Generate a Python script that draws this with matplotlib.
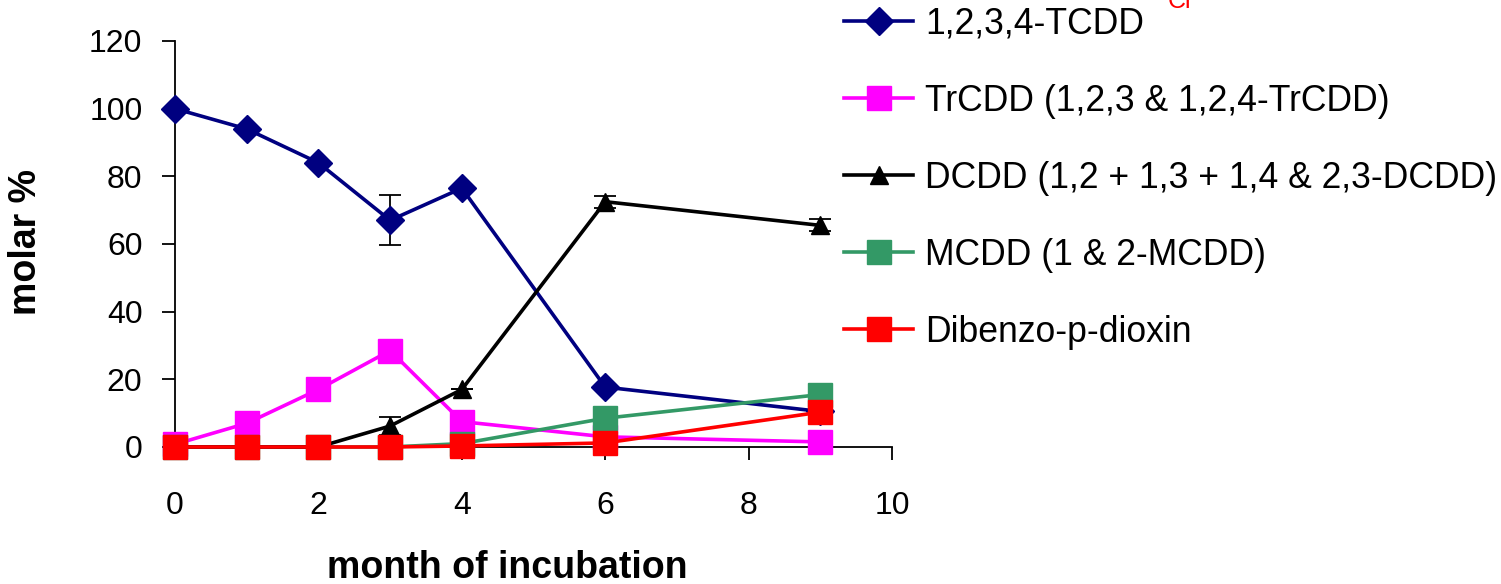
import numpy as np
import matplotlib
matplotlib.use("Agg")
import matplotlib.pyplot as plt

plt.rcParams['font.family'] = ['Liberation Sans', 'DejaVu Sans']

months = [0, 1, 2, 3, 4, 6, 9]
tcdd = [100, 94, 84, 67, 76.5, 17.7, 10.5]
tcdd_err = [0, 0, 0, 7.4, 0, 0, 1.5]
trcdd = [0.8, 7, 17, 28.5, 7.5, 3, 1.5]
dcdd = [0, 0, 0, 6.2, 17, 72.5, 65.5]
dcdd_err = [0, 0, 0, 2.6, 0, 1.8, 1.8]
mcdd = [0, 0, 0, 0, 1, 8.5, 15.5]
dibenzo = [0, 0, 0, 0, 0.3, 1.2, 10.3]

labels = ["1,2,3,4-TCDD", "TrCDD (1,2,3 & 1,2,4-TrCDD)",
          "DCDD (1,2 + 1,3 + 1,4 & 2,3-DCDD)", "MCDD (1 & 2-MCDD)",
          "Dibenzo-p-dioxin"]

fig = plt.figure(figsize=(15.01, 5.84), dpi=100)
ax = fig.add_axes([0.1166, 0.2346, 0.4777, 0.6952])

lw = 2.6
h1 = ax.errorbar(months, tcdd, yerr=tcdd_err, color='#000080', marker='D', ms=14,
                 lw=lw, ecolor='black', elinewidth=1.3, capsize=8, capthick=1.3, zorder=3)
h2, = ax.plot(months, trcdd, color='#ff00ff', marker='s', ms=17, lw=lw, zorder=3)
h3 = ax.errorbar(months, dcdd, yerr=dcdd_err, color='black', marker='^', ms=13,
                 lw=lw, ecolor='black', elinewidth=1.3, capsize=8, capthick=1.3, zorder=4)
h4, = ax.plot(months, mcdd, color='#339966', marker='s', ms=17, lw=lw, zorder=4)
h5, = ax.plot(months, dibenzo, color='#ff0000', marker='s', ms=17, lw=lw, zorder=5)

ax.set_xlim(0, 10)
ax.set_ylim(0, 120)
ax.set_xticks(np.arange(0, 11, 2))
ax.set_yticks(np.arange(0, 121, 20))
for s in ['top', 'right']:
    ax.spines[s].set_visible(False)
for s in ['left', 'bottom']:
    ax.spines[s].set_linewidth(1.3)
ax.tick_params(axis='both', labelsize=23, length=9.5, width=1.3, direction='out')
ax.tick_params(axis='x', pad=22)
ax.tick_params(axis='y', pad=14)
for line in ax.lines:
    line.set_clip_on(False)
for c in ax.collections:
    c.set_clip_on(False)

ax.set_xlabel("month of incubation", fontsize=27, fontweight='bold', va='center')
ax.xaxis.set_label_coords(0.464, -0.298)
ax.set_ylabel("molar %", fontsize=27, fontweight='bold', va='center')
ax.yaxis.set_label_coords(-0.208, 0.505)

fig.legend([h1[0], h2, h3[0], h4, h5], labels, loc='upper left',
           bbox_to_anchor=(0.541, 1.043), frameon=False, fontsize=25.6,
           handlelength=1.95, handletextpad=0.33, labelspacing=1.18, numpoints=1)

fig.text(0.778, 0.986, "Cl", color='red', fontsize=18, va='baseline')

fig.savefig("out.png", dpi=100)
